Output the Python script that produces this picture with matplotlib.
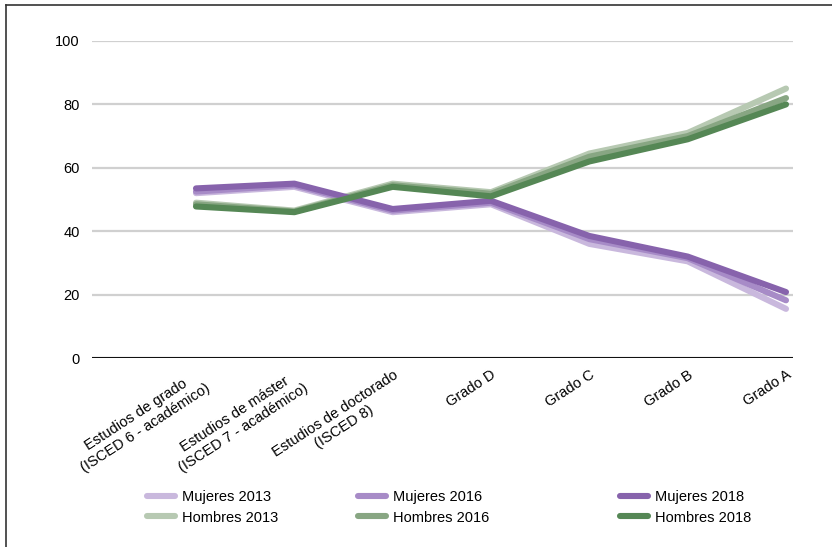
import matplotlib
matplotlib.use("Agg")
import matplotlib.pyplot as plt
from matplotlib.lines import Line2D

plt.rcParams['font.family'] = ['Liberation Sans', 'DejaVu Sans']

categories = ["Estudios de grado\n(ISCED 6 - académico)",
              "Estudios de máster\n(ISCED 7 - académico)",
              "Estudios de doctorado\n(ISCED 8)",
              "Grado D", "Grado C", "Grado B", "Grado A"]

mujeres_2013 = [52, 54, 46, 48.5, 36, 30.5, 15.5]
mujeres_2016 = [52.5, 54.5, 46.5, 49, 37.5, 31.5, 18.2]
mujeres_2018 = [53.5, 55, 47, 49.6, 38.5, 32, 20.8]
hombres_2013 = [49, 46.5, 55, 52.3, 64.5, 71, 85]
hombres_2016 = [48.5, 46.2, 54.5, 51.8, 63.5, 70, 82]
hombres_2018 = [47.8, 46, 54, 51, 62, 69, 80]

yticks = [0, 20, 40, 60, 80, 100]

series = [
    ("Mujeres 2013", mujeres_2013, "#c9b8dd"),
    ("Hombres 2013", hombres_2013, "#b7c9b2"),
    ("Mujeres 2016", mujeres_2016, "#a78bc7"),
    ("Hombres 2016", hombres_2016, "#88a683"),
    ("Mujeres 2018", mujeres_2018, "#8763ac"),
    ("Hombres 2018", hombres_2018, "#558755"),
]

FS = 10.5
W, H = 832, 547
fig = plt.figure(figsize=(W / 100, H / 100), dpi=100)
ax = fig.add_axes([92 / W, 1 - 358 / H, (793 - 92) / W, (358 - 41) / H])

x = list(range(len(categories)))
handles = {}
for name, vals, col in series:
    ln, = ax.plot(x, vals, color=col, lw=4.4, solid_capstyle='round',
                  solid_joinstyle='round', label=name, zorder=3)
    handles[name] = ln

step = (786 - 196) / 6
ax.set_xlim(-(196 - 92) / step, (793 - 196) / step)
ax.set_ylim(0, 100)
ax.set_yticks(yticks)
ax.set_yticklabels([str(v) for v in yticks], fontsize=FS)
ax.yaxis.grid(True, color="#d0d0d0", lw=1.6)
ax.set_axisbelow(True)
ax.axhline(0, color="#111111", lw=2.2, zorder=4)
for s in ax.spines.values():
    s.set_visible(False)
ax.tick_params(axis='y', length=0, pad=9)
ax.tick_params(axis='x', length=0, pad=7)
ax.set_xticks(x)
ax.set_xticklabels(categories, fontsize=FS, rotation=33, ha='right',
                   va='top', rotation_mode='anchor', multialignment='center')

# legends: three columns
cols = [(147, ["Mujeres 2013", "Hombres 2013"]),
        (358, ["Mujeres 2016", "Hombres 2016"]),
        (620, ["Mujeres 2018", "Hombres 2018"])]
for xpix, names in cols:
    hs = [Line2D([], [], color=handles[n].get_color(), lw=4.4,
                 solid_capstyle='round') for n in names]
    fig.legend(hs, names, loc='upper left',
               bbox_to_anchor=(xpix / W, 1 - 490 / H),
               frameon=False, fontsize=FS, borderpad=0,
               handlelength=1.9, handletextpad=0.5,
               labelspacing=0.45, borderaxespad=0)

# figure frame (top and left)
fig.add_artist(Line2D([6 / W, 6 / W], [0, 1 - 5 / H], color="#333333",
                      lw=1.2, transform=fig.transFigure))
fig.add_artist(Line2D([6 / W, 1], [1 - 5 / H, 1 - 5 / H], color="#333333",
                      lw=1.2, transform=fig.transFigure))

fig.savefig("out.png", dpi=100)
